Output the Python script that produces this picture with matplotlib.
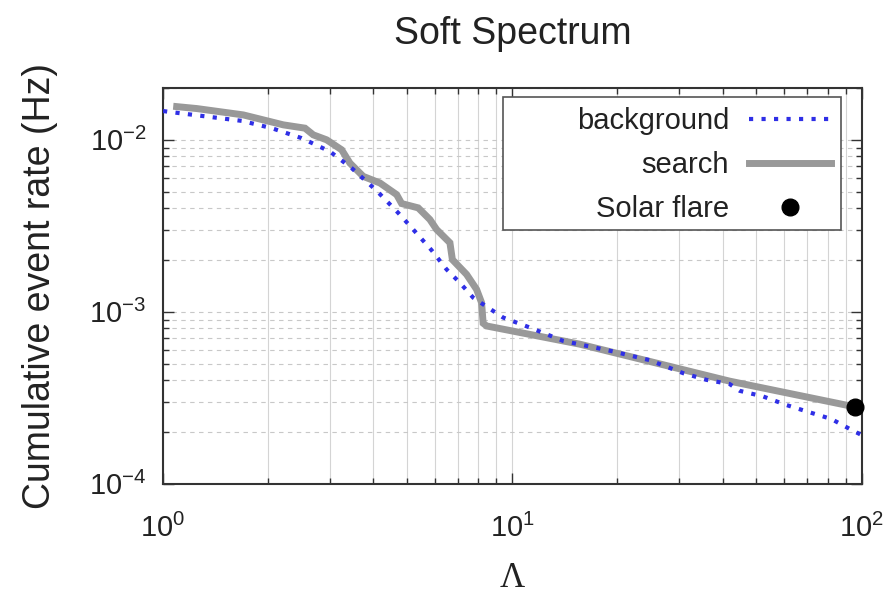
import numpy as np
import matplotlib
matplotlib.use('Agg')
import matplotlib.pyplot as plt
from matplotlib.patches import Rectangle
from matplotlib.ticker import LogLocator, NullFormatter

plt.rcParams['font.family'] = ['Liberation Sans', 'DejaVu Sans']

# ---- data
bg_lambda = [1.0, 1.059, 1.68, 2.047, 2.493, 3.005, 3.467, 4.087, 4.713, 5.202, 5.873,
             6.483, 7.075, 7.725, 8.25, 9.41, 11.22, 13.98, 19.43, 24.74, 30.8, 35.94,
             41.9, 44.77, 52.2, 60.9, 70.2, 81.9, 93.4, 100.0]
bg_rate = [1.47e-2, 1.448e-2, 1.289e-2, 1.169e-2, 1.023e-2, 8.55e-3, 6.85e-3, 5.06e-3,
           3.76e-3, 3.01e-3, 2.28e-3, 1.763e-3, 1.476e-3, 1.208e-3, 1.105e-3, 9.26e-4,
           8.10e-4, 6.77e-4, 5.88e-4, 5.23e-4, 4.40e-4, 4.02e-4, 3.80e-4, 3.47e-4,
           3.22e-4, 2.87e-4, 2.62e-4, 2.38e-4, 2.06e-4, 1.92e-4]

search_lambda = [1.094, 1.249, 1.697, 2.209, 2.549, 2.692, 2.94, 3.246, 3.428, 3.742,
                 4.178, 4.665, 4.82, 5.377, 5.807, 6.069, 6.627, 6.736, 7.395, 7.90,
                 8.165, 8.25, 8.44, 15.6, 41.9, 95.5]
search_rate = [1.56e-2, 1.52e-2, 1.396e-2, 1.222e-2, 1.169e-2, 1.069e-2, 1.0e-2, 8.75e-3,
               7.32e-3, 6.13e-3, 5.61e-3, 4.80e-3, 4.26e-3, 4.02e-3, 3.44e-3, 3.01e-3,
               2.52e-3, 2.01e-3, 1.65e-3, 1.35e-3, 1.13e-3, 8.58e-4, 8.27e-4, 6.48e-4,
               3.95e-4, 2.80e-4]

flare_lambda = [95.5]
flare_rate = [2.80e-4]

# ---- plot
fig = plt.figure(figsize=(8.91, 5.95), dpi=100)
ax = fig.add_axes([0.183, 0.187, 0.784, 0.665])

ax.plot(bg_lambda, bg_rate, color='#2f2fe6', lw=3, linestyle=(0, (1, 2)),
        label='background', zorder=3)
ax.plot(search_lambda, search_rate, color='#999999', lw=5, solid_joinstyle='miter',
        label='search', zorder=2)
ax.plot(flare_lambda, flare_rate, 'o', color='black', ms=12, label='Solar flare',
        zorder=4, clip_on=False)

ax.set_xscale('log')
ax.set_yscale('log')
ax.set_xlim(1, 100)
ax.set_ylim(1e-4, 2e-2)

ax.xaxis.set_minor_locator(LogLocator(base=10, subs=np.arange(2, 10)))
ax.yaxis.set_minor_locator(LogLocator(base=10, subs=np.arange(2, 10)))
ax.xaxis.set_minor_formatter(NullFormatter())
ax.yaxis.set_minor_formatter(NullFormatter())

ax.grid(True, axis='x', which='both', color='#d4d4d4', lw=0.8, linestyle='-')
ax.grid(True, axis='y', which='both', color='#c8c8c8', lw=0.8, linestyle=(0, (4, 4)))
ax.set_axisbelow(True)

ax.tick_params(which='both', direction='in', top=True, right=True, colors='#333333',
               labelcolor='#222222', labelsize=21)
ax.tick_params(which='major', length=8, width=1)
ax.tick_params(which='minor', length=4, width=1)
ax.tick_params(axis='x', pad=22)
ax.tick_params(axis='y', pad=12)

for s in ax.spines.values():
    s.set_linewidth(1.5)
    s.set_color('#333333')

ax.set_title('Soft Spectrum', fontsize=27, pad=32, color='#222222')
ax.set_ylabel('Cumulative event rate (Hz)', fontsize=27, labelpad=22, color='#222222')
ax.set_xlabel('Λ', fontsize=25, family=['Liberation Serif', 'DejaVu Serif'],
              labelpad=13, color='#222222')

# gnuplot-style key: wide box, labels right-aligned before the samples
key_box = Rectangle((0.486, 0.641), 0.485, 0.336, transform=ax.transAxes,
                    facecolor='white', edgecolor='#555555', lw=1.2, zorder=4.5)
ax.add_patch(key_box)
leg = ax.legend(loc='upper right', bbox_to_anchor=(0.971, 0.977), borderaxespad=0,
                markerfirst=False, frameon=False, fontsize=21, handlelength=2.8,
                labelspacing=0.55, borderpad=0.35, handletextpad=0.7)
for t in leg.get_texts():
    t.set_color('#222222')

fig.savefig('out.png', dpi=100)
